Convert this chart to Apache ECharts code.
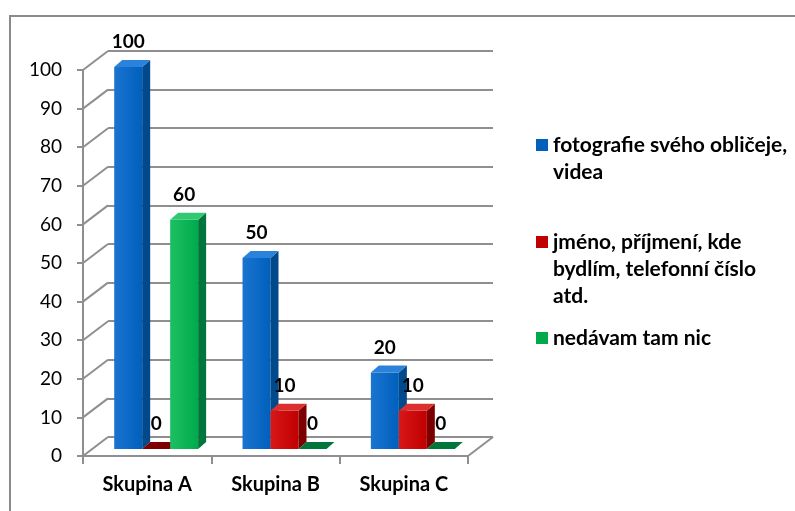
<!DOCTYPE html>
<html>
<head>
<meta charset="utf-8">
<script src="https://cdn.jsdelivr.net/npm/echarts@6/dist/echarts.min.js"></script>
<style>
  html, body { margin: 0; padding: 0; background: #ffffff; }
  #chart { width: 795px; height: 511px; }
</style>
</head>
<body>
<div id="chart"></div>
<script>
// ---- data ----
const categories = ['Skupina A', 'Skupina B', 'Skupina C'];
const seriesNames = [
  'fotografie svého obličeje, videa',
  'jméno, příjmení, kde bydlím, telefonní číslo atd.',
  'nedávam tam nic'
];
const legendLines = [
  ['fotografie svého obličeje,', 'videa'],
  ['jméno, příjmení, kde', 'bydlím, telefonní číslo', 'atd.'],
  ['nedávam tam nic']
];
const photoValues = [100, 50, 20];
const nameValues = [0, 10, 10];
const nothingValues = [60, 0, 0];
const yTicks = [0, 10, 20, 30, 40, 50, 60, 70, 80, 90, 100];

// ---- style ----
const FONT = 'Lato';
const GRID_COLOR = '#8f8f8f';
const WALL_DX = 25, WALL_DY = -19;
const BAR_DX = 8, BAR_DY = -7;
const BAR_RATIO = 0.218;
const faces = [
  { front: ['#1a74d0', '#0060bc'], side: '#004a8c', top: '#2a82da' },
  { front: ['#d81818', '#c00000'], side: '#7c0000', top: '#dc3030' },
  { front: ['#1cc062', '#00aa4c'], side: '#00763a', top: '#30c870' }
];

const chart = echarts.init(document.getElementById('chart'), null, { renderer: 'canvas' });

function barRenderer(k) {
  const f = faces[k];
  return function (params, api) {
    const cat = api.value(0), val = api.value(1);
    const base = api.coord([cat, 0]);
    const top = api.coord([cat, val]);
    const band = api.size([1, 0])[0];
    const w = band * BAR_RATIO;
    const x = base[0] - 1.5 * w + k * w;
    const yb = base[1], yt = top[1];
    return {
      type: 'group',
      children: [
        { type: 'rect', shape: { x: x, y: yt, width: w, height: yb - yt },
          style: { fill: { type: 'linear', x: 0, y: 0, x2: 1, y2: 0,
            colorStops: [{ offset: 0, color: f.front[0] }, { offset: 1, color: f.front[1] }] } } },
        { type: 'polygon', shape: { points: [[x + w, yt], [x + w + BAR_DX, yt + BAR_DY], [x + w + BAR_DX, yb + BAR_DY], [x + w, yb]] },
          style: { fill: f.side } },
        { type: 'polygon', shape: { points: [[x, yt], [x + BAR_DX, yt + BAR_DY], [x + w + BAR_DX, yt + BAR_DY], [x + w, yt]] },
          style: { fill: val === 0 ? f.side : f.top } },
        { type: 'text', x: x + w / 2, y: yt - 25,
          style: { text: String(val), fontFamily: FONT, fontSize: 19, fontWeight: 'bold', fill: '#000',
            align: 'center', verticalAlign: 'middle' } }
      ]
    };
  };
}

function frameRenderer(params, api) {
  const v = api.value(1);
  const band = api.size([1, 0])[0];
  const left = api.coord([0, v])[0] - band / 2;
  const right = api.coord([categories.length - 1, v])[0] + band / 2;
  const y = api.coord([0, v])[1];
  const children = [
    { type: 'line', shape: { x1: left, y1: y, x2: left + WALL_DX, y2: y + WALL_DY },
      style: { stroke: GRID_COLOR, lineWidth: 2 } }
  ];
  if (v === 0) {
    children.push({ type: 'line', shape: { x1: right, y1: y, x2: right + WALL_DX, y2: y + WALL_DY },
      style: { stroke: GRID_COLOR, lineWidth: 2 } });
  }
  return { type: 'group', children: children };
}

const allValues = [photoValues, nameValues, nothingValues];
const barSeries = allValues.map((vals, k) => ({
  name: seriesNames[k],
  type: 'custom',
  xAxisIndex: 2, yAxisIndex: 2,
  renderItem: barRenderer(k),
  itemStyle: { color: faces[k].front[1] },
  encode: { x: 0, y: 1 },
  data: vals.map((v, i) => [i, v]),
  z: 5
}));

// legend: one component per item so the spacing can follow the reference
const legendCenters = [145, 242, 338];
const LEGEND_LH = 27;
const legends = legendLines.map((lines, k) => {
  const padded = Array(lines.length - 1).fill('').concat(lines);
  const h = padded.length * LEGEND_LH;
  return {
    left: 536,
    top: legendCenters[k] - h / 2,
    orient: 'vertical',
    padding: 0,
    itemWidth: 12, itemHeight: 12, itemGap: 0,
    icon: 'rect',
    selectedMode: false,
    data: [seriesNames[k]],
    formatter: () => padded.join('\n'),
    textStyle: { fontFamily: FONT, fontSize: 21, fontWeight: 'bold', color: '#000',
      lineHeight: LEGEND_LH, padding: [0, 0, 0, 0] }
  };
});

const option = {
  animation: false,
  backgroundColor: '#ffffff',
  graphic: [{
    type: 'rect', shape: { x: 10, y: 16, width: 800, height: 510 },
    style: { fill: 'none', stroke: '#8a8a8a', lineWidth: 2 }, silent: true
  }],
  legend: legends,
  grid: [
    { left: 83, right: 327, top: 70, bottom: 55 },
    { left: 83 + WALL_DX, right: 327 - WALL_DX, top: 70 + WALL_DY, bottom: 55 - WALL_DY },
    { left: 92, right: 318, top: 67, bottom: 62 }
  ],
  xAxis: [
    { type: 'category', gridIndex: 0, data: categories,
      axisLine: { show: true, lineStyle: { color: GRID_COLOR, width: 2 } },
      axisTick: { show: true, length: 8, lineStyle: { color: GRID_COLOR, width: 2 } },
      axisLabel: { fontFamily: FONT, fontSize: 20, fontWeight: 'bold', color: '#000', margin: 19 } },
    { type: 'category', gridIndex: 1, data: categories, show: false },
    { type: 'category', gridIndex: 2, data: categories, show: false }
  ],
  yAxis: [
    { type: 'value', gridIndex: 0, min: 0, max: 100, interval: 10,
      axisLine: { show: true, lineStyle: { color: GRID_COLOR, width: 2 } },
      axisTick: { show: true, length: 6, lineStyle: { color: GRID_COLOR, width: 2 } },
      splitLine: { show: false },
      axisLabel: { fontFamily: FONT, fontSize: 19, color: '#000', margin: 21,
        formatter: v => (yTicks.indexOf(v) >= 0 ? String(v) : '') } },
    { type: 'value', gridIndex: 1, min: 0, max: 100, interval: 10,
      axisLine: { show: false }, axisTick: { show: false }, axisLabel: { show: false },
      splitLine: { show: true, lineStyle: { color: GRID_COLOR, width: 2 } } },
    { type: 'value', gridIndex: 2, min: 0, max: 100, interval: 10, show: false,
      splitLine: { show: false } }
  ],
  series: [
    { type: 'custom', name: 'frame', xAxisIndex: 0, yAxisIndex: 0, silent: true,
      renderItem: frameRenderer, encode: { x: 0, y: 1 },
      data: yTicks.map(v => [0, v]), z: 1 }
  ].concat(barSeries)
};
chart.setOption(option);
</script>
</body>
</html>
